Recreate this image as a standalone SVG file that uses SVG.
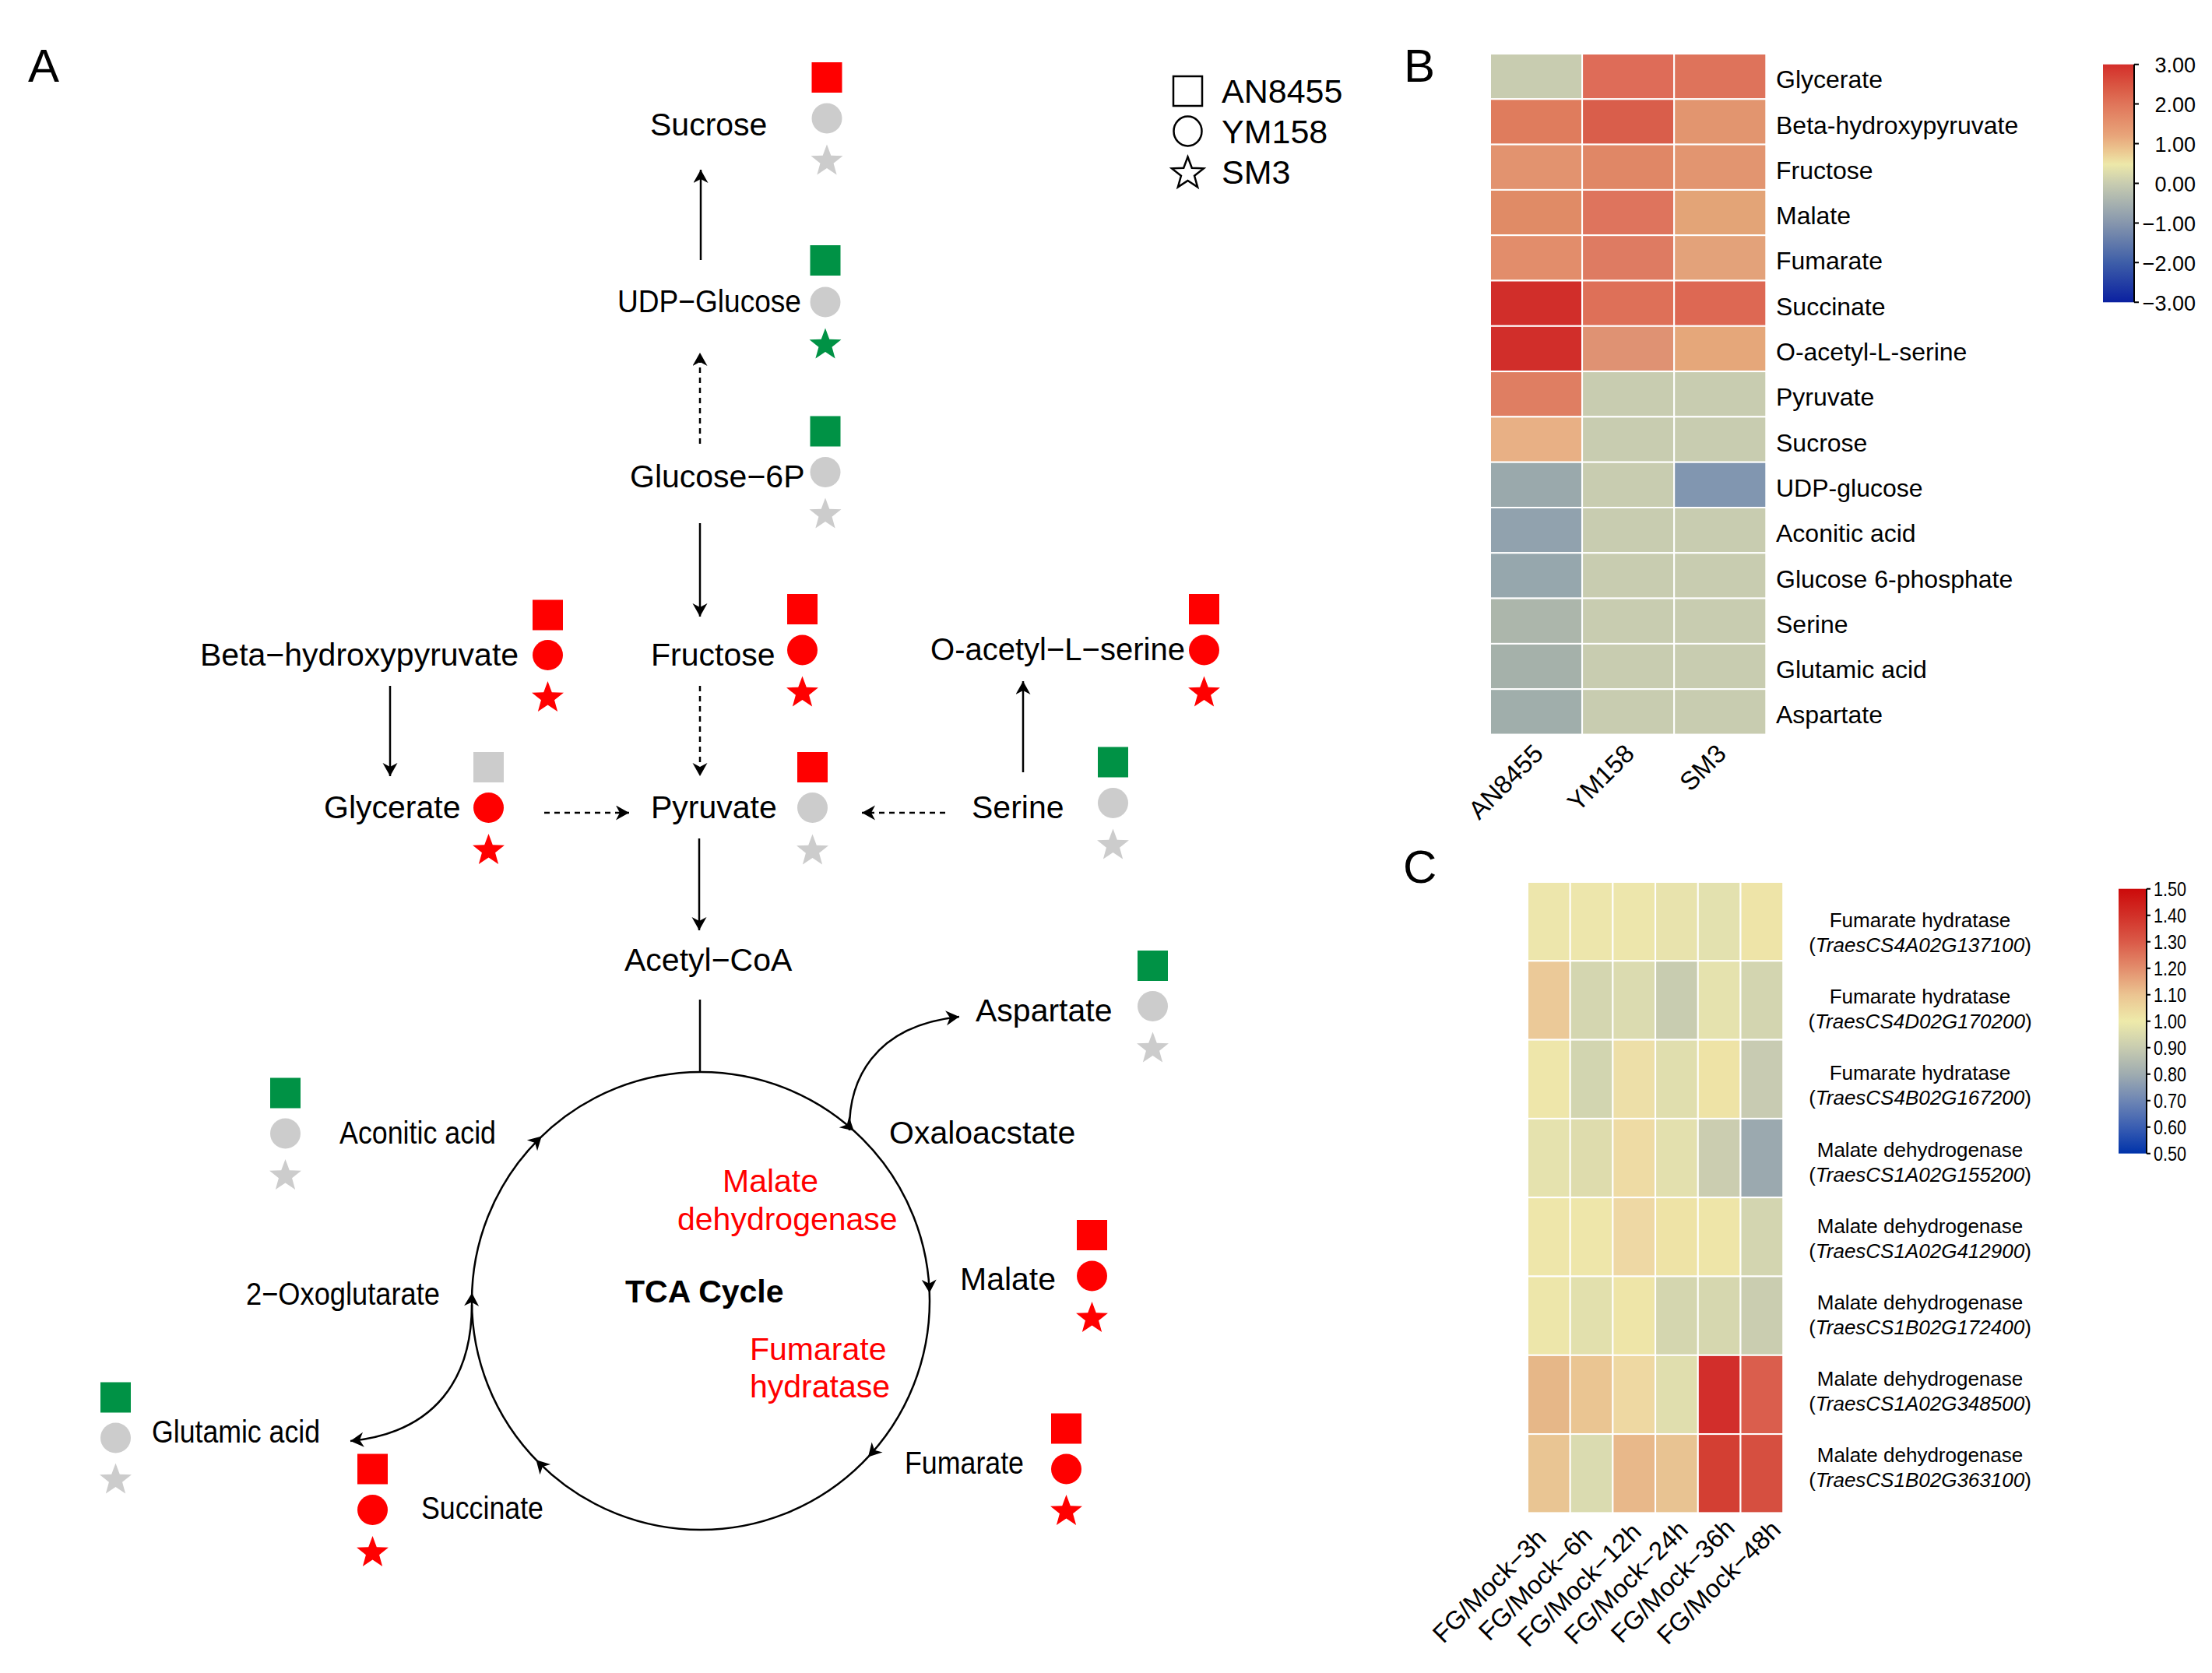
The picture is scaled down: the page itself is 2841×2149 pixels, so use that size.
<svg xmlns="http://www.w3.org/2000/svg" width="2841" height="2149" viewBox="0 0 2841 2149">
<style>
text{font-family:"Liberation Sans",Arial,Helvetica,sans-serif;fill:#000}
.t{font-size:41px}
.red{fill:#f00}
.r{fill:#f00}.g{fill:#009245}.n{fill:#ccc}
.ln{stroke:#000;stroke-width:2.5;fill:none}
.dash{stroke-dasharray:7 6}
.hb{font-size:32px}
.hc{font-size:26px}
.cell{stroke:#fff;stroke-width:2}
.panel{font-size:60px}
.leg{font-size:43px}
.tick{font-size:27px}
.tickc{font-size:25px}
.lo{fill:#fff;stroke:#000;stroke-width:2.5}
</style>
<defs>
<path id="star" d="M0,-21.5 L5.29,-7.28 L20.45,-6.64 L8.56,2.78 L12.64,17.39 L0,9 L-12.64,17.39 L-8.56,2.78 L-20.45,-6.64 L-5.29,-7.28 Z"/>
<path id="ah" d="M-17,-9.5 L0,0 L-17,9.5 L-12,0 Z"/>
<marker id="arr" markerUnits="userSpaceOnUse" markerWidth="18" markerHeight="20" refX="17" refY="9.5" orient="auto"><path d="M0,0 L17,9.5 L0,19 L5,9.5 Z" fill="#000"/></marker>
<linearGradient id="gb" x1="0" y1="0" x2="0" y2="1">
<stop offset="0" stop-color="#D42E2A"/><stop offset="0.1" stop-color="#DA5A45"/><stop offset="0.167" stop-color="#E0755A"/><stop offset="0.3" stop-color="#E8A57A"/><stop offset="0.37" stop-color="#ECCB93"/><stop offset="0.42" stop-color="#EDE8A9"/><stop offset="0.5" stop-color="#C8CCB0"/><stop offset="0.6" stop-color="#A0ACAF"/><stop offset="0.667" stop-color="#8696AD"/><stop offset="0.833" stop-color="#3E5EA8"/><stop offset="1" stop-color="#0A20A0"/>
</linearGradient>
<linearGradient id="gc" x1="0" y1="0" x2="0" y2="1">
<stop offset="0" stop-color="#CC0A0A"/><stop offset="0.1" stop-color="#D23028"/><stop offset="0.2" stop-color="#DA5A48"/><stop offset="0.3" stop-color="#E38D6C"/><stop offset="0.4" stop-color="#EBC491"/><stop offset="0.5" stop-color="#EEEAAA"/><stop offset="0.6" stop-color="#C8CCB0"/><stop offset="0.7" stop-color="#9FACB0"/><stop offset="0.8" stop-color="#6E86B4"/><stop offset="0.9" stop-color="#3A5EB2"/><stop offset="1" stop-color="#0033AA"/>
</linearGradient>
</defs>
<rect x="0" y="0" width="2841" height="2149" fill="#fff"/>

<!-- Panel A -->
<text class="panel" x="36" y="105">A</text>
<g id="legend">
<rect class="lo" x="1507" y="98" width="37" height="38"/>
<text class="leg" x="1569" y="132">AN8455</text>
<ellipse class="lo" cx="1525.5" cy="168.5" rx="18" ry="19"/>
<text class="leg" x="1569" y="184">YM158</text>
<use href="#star" class="lo" x="1525.5" y="223"/>
<text class="leg" x="1569" y="236">SM3</text>
</g>

<g id="connectors">
<line class="ln" x1="900" y1="334" x2="900" y2="218" marker-end="url(#arr)"/>
<line class="ln dash" x1="899" y1="570" x2="899" y2="453" marker-end="url(#arr)"/>
<line class="ln" x1="899" y1="672" x2="899" y2="792" marker-end="url(#arr)"/>
<line class="ln" x1="501" y1="881" x2="501" y2="997" marker-end="url(#arr)"/>
<line class="ln dash" x1="899" y1="881" x2="899" y2="997" marker-end="url(#arr)"/>
<line class="ln dash" x1="699" y1="1044" x2="808" y2="1044" marker-end="url(#arr)"/>
<line class="ln dash" x1="1214" y1="1044" x2="1107" y2="1044" marker-end="url(#arr)"/>
<line class="ln" x1="1314" y1="992" x2="1314" y2="875" marker-end="url(#arr)"/>
<line class="ln" x1="898" y1="1077" x2="898" y2="1195" marker-end="url(#arr)"/>
<line class="ln" x1="899" y1="1284" x2="899" y2="1377"/>
<path class="ln" d="M1091,1452 C1090,1390 1120,1318 1232,1306" marker-end="url(#arr)"/>
<path class="ln" d="M606,1676 C606,1770 560,1840 450,1851" marker-end="url(#arr)"/>
<circle class="ln" cx="900" cy="1671" r="294"/>
<use href="#ah" transform="translate(1096.7,1452.5) rotate(42)"/>
<use href="#ah" transform="translate(1193.8,1660.7) rotate(88)"/>
<use href="#ah" transform="translate(1115,1871.5) rotate(133)"/>
<use href="#ah" transform="translate(688.5,1875.3) rotate(226)"/>
<use href="#ah" transform="translate(606.2,1660.7) rotate(272)"/>
<use href="#ah" transform="translate(695.7,1459.6) rotate(316)"/>
</g>

<g id="sucrose"><text class="t" x="835" y="174">Sucrose</text>
<rect class="r" x="1042.5" y="80" width="39" height="39"/><circle class="n" cx="1062" cy="152" r="19.5"/><use href="#star" class="n" x="1062" y="207"/></g>
<g id="udp-glucose"><text class="t" x="793" y="401" textLength="236" lengthAdjust="spacingAndGlyphs">UDP−Glucose</text>
<rect class="g" x="1040.5" y="315" width="39" height="39"/><circle class="n" cx="1060" cy="388" r="19.5"/><use href="#star" class="g" x="1060" y="443"/></g>
<g id="glucose-6p"><text class="t" x="809" y="626">Glucose−6P</text>
<rect class="g" x="1040.5" y="534.5" width="39" height="39"/><circle class="n" cx="1060" cy="606.5" r="19.5"/><use href="#star" class="n" x="1060" y="661"/></g>
<g id="beta-hydroxypyruvate"><text class="t" x="257" y="855">Beta−hydroxypyruvate</text>
<rect class="r" x="684" y="770.5" width="39" height="39"/><circle class="r" cx="703.5" cy="841.5" r="19.5"/><use href="#star" class="r" x="703.5" y="896.5"/></g>
<g id="fructose"><text class="t" x="836" y="855">Fructose</text>
<rect class="r" x="1011" y="763" width="39" height="39"/><circle class="r" cx="1030.5" cy="835" r="19.5"/><use href="#star" class="r" x="1030.5" y="890"/></g>
<g id="o-acetyl-l-serine"><text class="t" x="1195" y="848" textLength="327" lengthAdjust="spacingAndGlyphs">O-acetyl−L−serine</text>
<rect class="r" x="1527" y="763" width="39" height="39"/><circle class="r" cx="1546.5" cy="835" r="19.5"/><use href="#star" class="r" x="1546.5" y="890"/></g>
<g id="glycerate"><text class="t" x="416" y="1051">Glycerate</text>
<rect class="n" x="608" y="966" width="39" height="39"/><circle class="r" cx="627.5" cy="1037.5" r="19.5"/><use href="#star" class="r" x="627.5" y="1092.5"/></g>
<g id="pyruvate"><text class="t" x="836" y="1051">Pyruvate</text>
<rect class="r" x="1024" y="966" width="39" height="39"/><circle class="n" cx="1043.5" cy="1037.5" r="19.5"/><use href="#star" class="n" x="1043.5" y="1093"/></g>
<g id="serine"><text class="t" x="1248" y="1051">Serine</text>
<rect class="g" x="1410" y="959.5" width="39" height="39"/><circle class="n" cx="1429.5" cy="1031.5" r="19.5"/><use href="#star" class="n" x="1429.5" y="1086"/></g>
<g id="acetyl-coa"><text class="t" x="802" y="1247">Acetyl−CoA</text></g>
<g id="aspartate"><text class="t" x="1253" y="1312">Aspartate</text>
<rect class="g" x="1461" y="1221" width="39" height="39"/><circle class="n" cx="1480.5" cy="1292.5" r="19.5"/><use href="#star" class="n" x="1480.5" y="1347"/></g>
<g id="aconitic-acid"><text class="t" x="436" y="1469" textLength="201" lengthAdjust="spacingAndGlyphs">Aconitic acid</text>
<rect class="g" x="347" y="1384.5" width="39" height="39"/><circle class="n" cx="366.5" cy="1456" r="19.5"/><use href="#star" class="n" x="366.5" y="1510.5"/></g>
<g id="oxaloacstate"><text class="t" x="1142" y="1469">Oxaloacstate</text></g>
<g id="malate"><text class="t" x="1233" y="1657">Malate</text>
<rect class="r" x="1383" y="1567" width="39" height="39"/><circle class="r" cx="1402.5" cy="1639" r="19.5"/><use href="#star" class="r" x="1402.5" y="1693.5"/></g>
<g id="two-oxoglutarate"><text class="t" x="316" y="1676" textLength="249" lengthAdjust="spacingAndGlyphs">2−Oxoglutarate</text></g>
<g id="fumarate"><text class="t" x="1162" y="1893" textLength="153" lengthAdjust="spacingAndGlyphs">Fumarate</text>
<rect class="r" x="1350" y="1815.5" width="39" height="39"/><circle class="r" cx="1369.5" cy="1887" r="19.5"/><use href="#star" class="r" x="1369.5" y="1941.5"/></g>
<g id="glutamic-acid"><text class="t" x="195" y="1853" textLength="216" lengthAdjust="spacingAndGlyphs">Glutamic acid</text>
<rect class="g" x="129" y="1775.5" width="39" height="39"/><circle class="n" cx="148.5" cy="1847" r="19.5"/><use href="#star" class="n" x="148.5" y="1901"/></g>
<g id="succinate"><text class="t" x="541" y="1951" textLength="157" lengthAdjust="spacingAndGlyphs">Succinate</text>
<rect class="r" x="459" y="1867.5" width="39" height="39"/><circle class="r" cx="478.5" cy="1939.5" r="19.5"/><use href="#star" class="r" x="478.5" y="1994.5"/></g>
<g id="tca-cycle"><text x="803" y="1673" font-size="41" font-weight="bold">TCA Cycle</text></g>
<g id="enzyme-mdh"><text class="t red" x="928" y="1531">Malate</text><text class="t red" x="870" y="1580">dehydrogenase</text></g>
<g id="enzyme-fh"><text class="t red" x="963" y="1747">Fumarate</text><text class="t red" x="963" y="1795">hydratase</text></g>

<!-- Panel B -->
<text class="panel" x="1803" y="105">B</text>
<g id="heatmap-b" class="cell">
<rect x="1914" y="69" width="118.1" height="58.3" fill="#C8CCB0"/><rect x="2032.1" y="69" width="118.1" height="58.3" fill="#DE6C58"/><rect x="2150.2" y="69" width="118.1" height="58.3" fill="#DE735B"/>
<rect x="1914" y="127.3" width="118.1" height="58.3" fill="#DF7C5D"/><rect x="2032.1" y="127.3" width="118.1" height="58.3" fill="#D95E4B"/><rect x="2150.2" y="127.3" width="118.1" height="58.3" fill="#E2956F"/>
<rect x="1914" y="185.6" width="118.1" height="58.3" fill="#E2936F"/><rect x="2032.1" y="185.6" width="118.1" height="58.3" fill="#E08766"/><rect x="2150.2" y="185.6" width="118.1" height="58.3" fill="#E29570"/>
<rect x="1914" y="243.9" width="118.1" height="58.3" fill="#E08B66"/><rect x="2032.1" y="243.9" width="118.1" height="58.3" fill="#DE745D"/><rect x="2150.2" y="243.9" width="118.1" height="58.3" fill="#E3A477"/>
<rect x="1914" y="302.2" width="118.1" height="58.3" fill="#E28D6B"/><rect x="2032.1" y="302.2" width="118.1" height="58.3" fill="#DE7B62"/><rect x="2150.2" y="302.2" width="118.1" height="58.3" fill="#E3A27A"/>
<rect x="1914" y="360.5" width="118.1" height="58.3" fill="#D12E2A"/><rect x="2032.1" y="360.5" width="118.1" height="58.3" fill="#DE7058"/><rect x="2150.2" y="360.5" width="118.1" height="58.3" fill="#DD6853"/>
<rect x="1914" y="418.8" width="118.1" height="58.3" fill="#D12E2A"/><rect x="2032.1" y="418.8" width="118.1" height="58.3" fill="#DF9273"/><rect x="2150.2" y="418.8" width="118.1" height="58.3" fill="#E5A77A"/>
<rect x="1914" y="477.1" width="118.1" height="58.3" fill="#DF7E62"/><rect x="2032.1" y="477.1" width="118.1" height="58.3" fill="#C8CCB0"/><rect x="2150.2" y="477.1" width="118.1" height="58.3" fill="#C8CCB0"/>
<rect x="1914" y="535.4" width="118.1" height="58.3" fill="#E8B085"/><rect x="2032.1" y="535.4" width="118.1" height="58.3" fill="#C8CCB0"/><rect x="2150.2" y="535.4" width="118.1" height="58.3" fill="#C8CCB0"/>
<rect x="1914" y="593.7" width="118.1" height="58.3" fill="#9AA9AC"/><rect x="2032.1" y="593.7" width="118.1" height="58.3" fill="#C8CCB0"/><rect x="2150.2" y="593.7" width="118.1" height="58.3" fill="#8196B0"/>
<rect x="1914" y="652" width="118.1" height="58.3" fill="#91A2AE"/><rect x="2032.1" y="652" width="118.1" height="58.3" fill="#C8CCB0"/><rect x="2150.2" y="652" width="118.1" height="58.3" fill="#C8CCB0"/>
<rect x="1914" y="710.3" width="118.1" height="58.3" fill="#96A7AD"/><rect x="2032.1" y="710.3" width="118.1" height="58.3" fill="#C8CCB0"/><rect x="2150.2" y="710.3" width="118.1" height="58.3" fill="#C8CCB0"/>
<rect x="1914" y="768.6" width="118.1" height="58.3" fill="#ACB6AB"/><rect x="2032.1" y="768.6" width="118.1" height="58.3" fill="#C8CCB0"/><rect x="2150.2" y="768.6" width="118.1" height="58.3" fill="#C8CCB0"/>
<rect x="1914" y="826.9" width="118.1" height="58.3" fill="#A5B1AA"/><rect x="2032.1" y="826.9" width="118.1" height="58.3" fill="#C8CCB0"/><rect x="2150.2" y="826.9" width="118.1" height="58.3" fill="#C8CCB0"/>
<rect x="1914" y="885.2" width="118.1" height="58.3" fill="#A0AEAB"/><rect x="2032.1" y="885.2" width="118.1" height="58.3" fill="#C8CCB0"/><rect x="2150.2" y="885.2" width="118.1" height="58.3" fill="#C8CCB0"/>
</g>
<g id="labels-b" class="hb">
<text class="hb" x="2281" y="113.2">Glycerate</text>
<text class="hb" x="2281" y="171.5">Beta-hydroxypyruvate</text>
<text class="hb" x="2281" y="229.8">Fructose</text>
<text class="hb" x="2281" y="288.1">Malate</text>
<text class="hb" x="2281" y="346.4">Fumarate</text>
<text class="hb" x="2281" y="404.7">Succinate</text>
<text class="hb" x="2281" y="463">O-acetyl-L-serine</text>
<text class="hb" x="2281" y="521.3">Pyruvate</text>
<text class="hb" x="2281" y="579.6">Sucrose</text>
<text class="hb" x="2281" y="637.9">UDP-glucose</text>
<text class="hb" x="2281" y="696.2">Aconitic acid</text>
<text class="hb" x="2281" y="754.5">Glucose 6-phosphate</text>
<text class="hb" x="2281" y="812.8">Serine</text>
<text class="hb" x="2281" y="871.1">Glutamic acid</text>
<text class="hb" x="2281" y="929.4">Aspartate</text>
<text font-size="33" text-anchor="end" x="1984" y="970" transform="rotate(-45 1984 970)">AN8455</text>
<text font-size="33" text-anchor="end" x="2101" y="970" transform="rotate(-45 2101 970)">YM158</text>
<text font-size="33" text-anchor="end" x="2219" y="970" transform="rotate(-45 2219 970)">SM3</text>
</g>
<g id="colorbar-b">
<rect x="2701" y="82.7" width="39.5" height="305.6" fill="url(#gb)"/>
<path d="M2741,82.7 V388.3 M2741,82.7 H2747 M2741,133.6 H2747 M2741,184.6 H2747 M2741,235.5 H2747 M2741,286.4 H2747 M2741,337.3 H2747 M2741,388.3 H2747" stroke="#000" stroke-width="2" fill="none"/>
<g class="tick" text-anchor="end">
<text class="tick" x="2820" y="93.2">3.00</text>
<text class="tick" x="2820" y="144.1">2.00</text>
<text class="tick" x="2820" y="195.1">1.00</text>
<text class="tick" x="2820" y="246">0.00</text>
<text class="tick" x="2820" y="296.9">−1.00</text>
<text class="tick" x="2820" y="347.8">−2.00</text>
<text class="tick" x="2820" y="398.8">−3.00</text>
</g>
</g>

<!-- Panel C -->
<text class="panel" x="1802" y="1134">C</text>
<g id="heatmap-c" class="cell">
<rect x="1962" y="1133" width="54.7" height="101.3" fill="#EDE6AC"/><rect x="2016.7" y="1133" width="54.7" height="101.3" fill="#EDE6AC"/><rect x="2071.4" y="1133" width="54.7" height="101.3" fill="#EDE6AC"/><rect x="2126.1" y="1133" width="54.7" height="101.3" fill="#E8E3AD"/><rect x="2180.8" y="1133" width="54.7" height="101.3" fill="#E3E1AF"/><rect x="2235.5" y="1133" width="54.7" height="101.3" fill="#EEE4A8"/>
<rect x="1962" y="1234.3" width="54.7" height="101.3" fill="#EBC998"/><rect x="2016.7" y="1234.3" width="54.7" height="101.3" fill="#D4D6B0"/><rect x="2071.4" y="1234.3" width="54.7" height="101.3" fill="#DBDBB0"/><rect x="2126.1" y="1234.3" width="54.7" height="101.3" fill="#C8CCB0"/><rect x="2180.8" y="1234.3" width="54.7" height="101.3" fill="#E5E2AE"/><rect x="2235.5" y="1234.3" width="54.7" height="101.3" fill="#D3D5B0"/>
<rect x="1962" y="1335.6" width="54.7" height="101.3" fill="#EEE6AA"/><rect x="2016.7" y="1335.6" width="54.7" height="101.3" fill="#D2D5B0"/><rect x="2071.4" y="1335.6" width="54.7" height="101.3" fill="#EDDFA8"/><rect x="2126.1" y="1335.6" width="54.7" height="101.3" fill="#E0DEAE"/><rect x="2180.8" y="1335.6" width="54.7" height="101.3" fill="#EEE3A6"/><rect x="2235.5" y="1335.6" width="54.7" height="101.3" fill="#C8CBB2"/>
<rect x="1962" y="1436.9" width="54.7" height="101.3" fill="#E5E2AE"/><rect x="2016.7" y="1436.9" width="54.7" height="101.3" fill="#DEDCAD"/><rect x="2071.4" y="1436.9" width="54.7" height="101.3" fill="#EEDBA4"/><rect x="2126.1" y="1436.9" width="54.7" height="101.3" fill="#E3E0AE"/><rect x="2180.8" y="1436.9" width="54.7" height="101.3" fill="#CBCDB0"/><rect x="2235.5" y="1436.9" width="54.7" height="101.3" fill="#9BA9AF"/>
<rect x="1962" y="1538.2" width="54.7" height="101.3" fill="#EEE6AA"/><rect x="2016.7" y="1538.2" width="54.7" height="101.3" fill="#EEE6AA"/><rect x="2071.4" y="1538.2" width="54.7" height="101.3" fill="#EED8A4"/><rect x="2126.1" y="1538.2" width="54.7" height="101.3" fill="#EEE3A6"/><rect x="2180.8" y="1538.2" width="54.7" height="101.3" fill="#EEE5A8"/><rect x="2235.5" y="1538.2" width="54.7" height="101.3" fill="#D3D5B0"/>
<rect x="1962" y="1639.5" width="54.7" height="101.3" fill="#EDE6AA"/><rect x="2016.7" y="1639.5" width="54.7" height="101.3" fill="#E2E0AD"/><rect x="2071.4" y="1639.5" width="54.7" height="101.3" fill="#EEE5A8"/><rect x="2126.1" y="1639.5" width="54.7" height="101.3" fill="#D4D6AF"/><rect x="2180.8" y="1639.5" width="54.7" height="101.3" fill="#D6D7AF"/><rect x="2235.5" y="1639.5" width="54.7" height="101.3" fill="#CACDB0"/>
<rect x="1962" y="1740.8" width="54.7" height="101.3" fill="#E6B788"/><rect x="2016.7" y="1740.8" width="54.7" height="101.3" fill="#EAC592"/><rect x="2071.4" y="1740.8" width="54.7" height="101.3" fill="#EED8A2"/><rect x="2126.1" y="1740.8" width="54.7" height="101.3" fill="#E0DEAE"/><rect x="2180.8" y="1740.8" width="54.7" height="101.3" fill="#D22E2B"/><rect x="2235.5" y="1740.8" width="54.7" height="101.3" fill="#DA5E4D"/>
<rect x="1962" y="1842.1" width="54.7" height="101.3" fill="#E9C593"/><rect x="2016.7" y="1842.1" width="54.7" height="101.3" fill="#DADBB0"/><rect x="2071.4" y="1842.1" width="54.7" height="101.3" fill="#E8B88A"/><rect x="2126.1" y="1842.1" width="54.7" height="101.3" fill="#E8C392"/><rect x="2180.8" y="1842.1" width="54.7" height="101.3" fill="#D33F33"/><rect x="2235.5" y="1842.1" width="54.7" height="101.3" fill="#D64F40"/>
</g>
<g id="labels-c" class="hc" text-anchor="middle">
<text class="hc" x="2466" y="1191">Fumarate hydratase</text>
<text class="hc" x="2466" y="1223">(<tspan font-style="italic">TraesCS4A02G137100</tspan>)</text>
<text class="hc" x="2466" y="1289.2">Fumarate hydratase</text>
<text class="hc" x="2466" y="1321.2">(<tspan font-style="italic">TraesCS4D02G170200</tspan>)</text>
<text class="hc" x="2466" y="1387.4">Fumarate hydratase</text>
<text class="hc" x="2466" y="1419.4">(<tspan font-style="italic">TraesCS4B02G167200</tspan>)</text>
<text class="hc" x="2466" y="1485.6">Malate dehydrogenase</text>
<text class="hc" x="2466" y="1517.6">(<tspan font-style="italic">TraesCS1A02G155200</tspan>)</text>
<text class="hc" x="2466" y="1583.8">Malate dehydrogenase</text>
<text class="hc" x="2466" y="1615.8">(<tspan font-style="italic">TraesCS1A02G412900</tspan>)</text>
<text class="hc" x="2466" y="1682">Malate dehydrogenase</text>
<text class="hc" x="2466" y="1714">(<tspan font-style="italic">TraesCS1B02G172400</tspan>)</text>
<text class="hc" x="2466" y="1780.2">Malate dehydrogenase</text>
<text class="hc" x="2466" y="1812.2">(<tspan font-style="italic">TraesCS1A02G348500</tspan>)</text>
<text class="hc" x="2466" y="1878.4">Malate dehydrogenase</text>
<text class="hc" x="2466" y="1910.4">(<tspan font-style="italic">TraesCS1B02G363100</tspan>)</text>
</g>
<g id="collabels-c" font-size="33" text-anchor="end">
<text x="1988" y="1978" transform="rotate(-45 1988 1978)">FG/Mock−3h</text>
<text x="2047" y="1975" transform="rotate(-45 2047 1975)">FG/Mock−6h</text>
<text x="2110" y="1970" transform="rotate(-45 2110 1970)">FG/Mock−12h</text>
<text x="2170" y="1967" transform="rotate(-45 2170 1967)">FG/Mock−24h</text>
<text x="2230" y="1965" transform="rotate(-45 2230 1965)">FG/Mock−36h</text>
<text x="2289" y="1967" transform="rotate(-45 2289 1967)">FG/Mock−48h</text>
</g>
<g id="colorbar-c">
<rect x="2721" y="1141.7" width="35.5" height="340" fill="url(#gc)"/>
<path d="M2757,1141.7 V1481.7 M2757,1141.7 H2762 M2757,1175.7 H2762 M2757,1209.7 H2762 M2757,1243.7 H2762 M2757,1277.7 H2762 M2757,1311.7 H2762 M2757,1345.7 H2762 M2757,1379.7 H2762 M2757,1413.7 H2762 M2757,1447.7 H2762 M2757,1481.7 H2762" stroke="#000" stroke-width="2" fill="none"/>
<text class="tickc" x="2766" y="1151.2" textLength="42" lengthAdjust="spacingAndGlyphs">1.50</text>
<text class="tickc" x="2766" y="1185.2" textLength="42" lengthAdjust="spacingAndGlyphs">1.40</text>
<text class="tickc" x="2766" y="1219.2" textLength="42" lengthAdjust="spacingAndGlyphs">1.30</text>
<text class="tickc" x="2766" y="1253.2" textLength="42" lengthAdjust="spacingAndGlyphs">1.20</text>
<text class="tickc" x="2766" y="1287.2" textLength="42" lengthAdjust="spacingAndGlyphs">1.10</text>
<text class="tickc" x="2766" y="1321.2" textLength="42" lengthAdjust="spacingAndGlyphs">1.00</text>
<text class="tickc" x="2766" y="1355.2" textLength="42" lengthAdjust="spacingAndGlyphs">0.90</text>
<text class="tickc" x="2766" y="1389.2" textLength="42" lengthAdjust="spacingAndGlyphs">0.80</text>
<text class="tickc" x="2766" y="1423.2" textLength="42" lengthAdjust="spacingAndGlyphs">0.70</text>
<text class="tickc" x="2766" y="1457.2" textLength="42" lengthAdjust="spacingAndGlyphs">0.60</text>
<text class="tickc" x="2766" y="1491.2" textLength="42" lengthAdjust="spacingAndGlyphs">0.50</text>
</g>
</svg>
